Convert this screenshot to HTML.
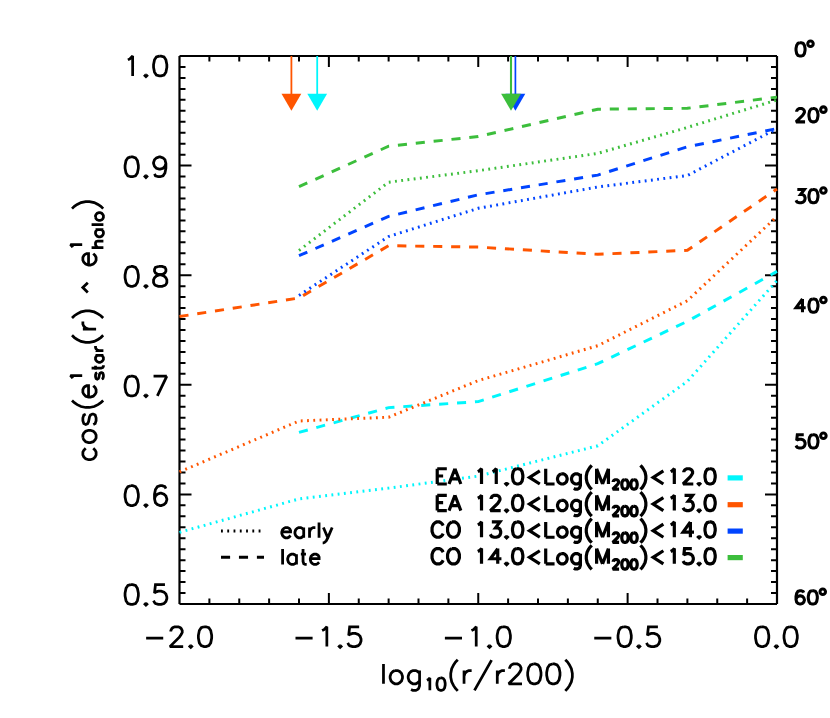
<!DOCTYPE html>
<html lang="en"><head><meta charset="utf-8"><title>cos(e_star(r) ^ e_halo) vs log10(r/r200)</title>
<style>
html,body{margin:0;padding:0;background:#fff}
svg{display:block}
.g{fill:none;stroke:#000;stroke-linecap:butt;stroke-linejoin:miter;stroke-miterlimit:2.3}
.ax{fill:none;stroke:#000;stroke-width:2.2}
.tk{fill:none;stroke:#000;stroke-width:2}
.ln{fill:none;stroke-width:2.95;stroke-linecap:butt;stroke-linejoin:miter}
.da{stroke-dasharray:9.1 8.85}
.do{stroke-dasharray:1.85 4.42}
text{font-family:"Liberation Sans",sans-serif;fill:#000;fill-opacity:0}
</style></head>
<body>
<svg width="830" height="718" viewBox="0 0 830 718">
<rect width="830" height="718" fill="#fff"/>
<!-- axes box -->
<path class="ax" d="M179.5 604H777M179.5 56H777M179.5 604V56M777 604V56"/>
<!-- ticks -->
<path class="tk" d="M209.38 604v-5.5M209.38 56v5.5M239.25 604v-5.5M239.25 56v5.5M269.12 604v-5.5M269.12 56v5.5M299 604v-5.5M299 56v5.5M328.88 604v-11M328.88 56v11M358.75 604v-5.5M358.75 56v5.5M388.63 604v-5.5M388.63 56v5.5M418.5 604v-5.5M418.5 56v5.5M448.38 604v-5.5M448.38 56v5.5M478.25 604v-11M478.25 56v11M508.12 604v-5.5M508.12 56v5.5M538 604v-5.5M538 56v5.5M567.88 604v-5.5M567.88 56v5.5M597.75 604v-5.5M597.75 56v5.5M627.62 604v-11M627.62 56v11M657.5 604v-5.5M657.5 56v5.5M687.38 604v-5.5M687.38 56v5.5M717.25 604v-5.5M717.25 56v5.5M747.12 604v-5.5M747.12 56v5.5M179.5 593.04h6M777 593.04h-6M179.5 582.08h6M777 582.08h-6M179.5 571.12h6M777 571.12h-6M179.5 560.16h6M777 560.16h-6M179.5 549.2h6M777 549.2h-6M179.5 538.24h6M777 538.24h-6M179.5 527.28h6M777 527.28h-6M179.5 516.32h6M777 516.32h-6M179.5 505.36h6M777 505.36h-6M179.5 494.4h12M777 494.4h-12M179.5 483.44h6M777 483.44h-6M179.5 472.48h6M777 472.48h-6M179.5 461.52h6M777 461.52h-6M179.5 450.56h6M777 450.56h-6M179.5 439.6h6M777 439.6h-6M179.5 428.64h6M777 428.64h-6M179.5 417.68h6M777 417.68h-6M179.5 406.72h6M777 406.72h-6M179.5 395.76h6M777 395.76h-6M179.5 384.8h12M777 384.8h-12M179.5 373.84h6M777 373.84h-6M179.5 362.88h6M777 362.88h-6M179.5 351.92h6M777 351.92h-6M179.5 340.96h6M777 340.96h-6M179.5 330h6M777 330h-6M179.5 319.04h6M777 319.04h-6M179.5 308.08h6M777 308.08h-6M179.5 297.12h6M777 297.12h-6M179.5 286.16h6M777 286.16h-6M179.5 275.2h12M777 275.2h-12M179.5 264.24h6M777 264.24h-6M179.5 253.28h6M777 253.28h-6M179.5 242.32h6M777 242.32h-6M179.5 231.36h6M777 231.36h-6M179.5 220.4h6M777 220.4h-6M179.5 209.44h6M777 209.44h-6M179.5 198.48h6M777 198.48h-6M179.5 187.52h6M777 187.52h-6M179.5 176.56h6M777 176.56h-6M179.5 165.6h12M777 165.6h-12M179.5 154.64h6M777 154.64h-6M179.5 143.68h6M777 143.68h-6M179.5 132.72h6M777 132.72h-6M179.5 121.76h6M777 121.76h-6M179.5 110.8h6M777 110.8h-6M179.5 99.84h6M777 99.84h-6M179.5 88.88h6M777 88.88h-6M179.5 77.92h6M777 77.92h-6M179.5 66.96h6M777 66.96h-6"/>
<!-- data curves -->
<polyline class="ln do" stroke="#00f6fc" points="179.5,532.3 299,498.9 388.62,488.1 478.25,476.1 597.75,445.8 687.38,381.4 777,280.5"/>
<polyline class="ln da" stroke="#00f6fc" points="299,432.4 388.62,407.6 478.25,401.6 597.75,363.7 687.38,321.3 777,271.4"/>
<polyline class="ln do" stroke="#ff5500" points="179.5,471.9 299,421 388.62,417.2 478.25,380.6 597.75,345.7 687.38,300.7 777,216.4"/>
<polyline class="ln da" stroke="#ff5500" points="179.5,316.5 299,298 388.62,245.7 478.25,247.1 597.75,254.3 687.38,250.3 777,189"/>
<polyline class="ln do" stroke="#0044ff" points="299,295.4 388.62,236.5 478.25,208.3 597.75,187 687.38,175.5 777,128.6"/>
<polyline class="ln da" stroke="#0044ff" points="299,255.7 388.62,216.4 478.25,194.8 597.75,175.1 687.38,146.8 777,128.6"/>
<polyline class="ln do" stroke="#3cbe3c" points="299,250.5 388.62,182.2 478.25,170.7 597.75,153.4 687.38,127.4 777,100"/>
<polyline class="ln da" stroke="#3cbe3c" points="299,186.7 388.62,146.2 478.25,136.5 597.75,109.2 687.38,108.3 777,97.1"/>
<!-- r_half arrows -->
<path d="M291.4 56V95" stroke="#ff5500" stroke-width="1.8" fill="none"/><path d="M281.5 93.7h19.8l-9.9 17z" fill="#ff5500"/>
<path d="M317.2 56V95" stroke="#00f6fc" stroke-width="1.8" fill="none"/><path d="M307.3 93.7h19.8l-9.9 17z" fill="#00f6fc"/>
<path d="M515.4 56V95" stroke="#0044ff" stroke-width="1.7" fill="none"/><path d="M505.5 93.7h19.8l-9.9 17z" fill="#0044ff"/>
<path d="M511 56V95" stroke="#3cbe3c" stroke-width="2.1" fill="none"/><path d="M501.1 93.7h19.8l-9.9 17z" fill="#3cbe3c"/>
<!-- y tick labels -->
<g><path class="g" stroke-width="2.75" d="M127.90 59.86L129.80 58.91L132.65 56.08L132.65 75.92M145.95 74.79L145 75.74L145.95 76.68L146.90 75.74L145.95 74.79M159.25 56.08L156.40 57.02L154.50 59.86L153.55 64.58L153.55 67.42L154.50 72.14L156.40 74.98L159.25 75.92L161.15 75.92L164 74.98L165.90 72.14L166.85 67.42L166.85 64.58L165.90 59.86L164 57.02L161.15 56.08L159.25 56.08"/><text x="124.2" y="76.92" font-size="30" textLength="42.5" lengthAdjust="spacingAndGlyphs">1.0</text></g>
<g><path class="g" stroke-width="2.75" d="M130.75 156.88L127.90 157.83L126 160.66L125.05 165.39L125.05 168.22L126 172.95L127.90 175.78L130.75 176.73L132.65 176.73L135.50 175.78L137.40 172.95L138.35 168.22L138.35 165.39L137.40 160.66L135.50 157.83L132.65 156.88L130.75 156.88M145.95 175.59L145 176.54L145.95 177.48L146.90 176.54L145.95 175.59M165.90 163.50L164.95 166.33L163.05 168.22L160.20 169.17L159.25 169.17L156.40 168.22L154.50 166.33L153.55 163.50L153.55 162.55L154.50 159.72L156.40 157.83L159.25 156.88L160.20 156.88L163.05 157.83L164.95 159.72L165.90 163.50L165.90 168.22L164.95 172.95L163.05 175.78L160.20 176.73L158.30 176.73L155.45 175.78L154.50 173.89"/><text x="124.2" y="177.73" font-size="30" textLength="42.5" lengthAdjust="spacingAndGlyphs">0.9</text></g>
<g><path class="g" stroke-width="2.75" d="M130.75 266.48L127.90 267.43L126 270.26L125.05 274.99L125.05 277.82L126 282.55L127.90 285.38L130.75 286.32L132.65 286.32L135.50 285.38L137.40 282.55L138.35 277.82L138.35 274.99L137.40 270.26L135.50 267.43L132.65 266.48L130.75 266.48M145.95 285.19L145 286.14L145.95 287.08L146.90 286.14L145.95 285.19M158.30 266.48L155.45 267.43L154.50 269.31L154.50 271.20L155.45 273.09L157.35 274.04L161.15 274.99L164 275.93L165.90 277.82L166.85 279.71L166.85 282.55L165.90 284.44L164.95 285.38L162.10 286.32L158.30 286.32L155.45 285.38L154.50 284.44L153.55 282.55L153.55 279.71L154.50 277.82L156.40 275.93L159.25 274.99L163.05 274.04L164.95 273.09L165.90 271.20L165.90 269.31L164.95 267.43L162.10 266.48L158.30 266.48"/><text x="124.2" y="287.32" font-size="30" textLength="42.5" lengthAdjust="spacingAndGlyphs">0.8</text></g>
<g><path class="g" stroke-width="2.75" d="M130.75 376.08L127.90 377.03L126 379.86L125.05 384.59L125.05 387.42L126 392.15L127.90 394.98L130.75 395.93L132.65 395.93L135.50 394.98L137.40 392.15L138.35 387.42L138.35 384.59L137.40 379.86L135.50 377.03L132.65 376.08L130.75 376.08M145.95 394.79L145 395.74L145.95 396.68L146.90 395.74L145.95 394.79M166.85 376.08L157.35 395.93M153.55 376.08L166.85 376.08"/><text x="124.2" y="396.93" font-size="30" textLength="42.5" lengthAdjust="spacingAndGlyphs">0.7</text></g>
<g><path class="g" stroke-width="2.75" d="M130.75 485.68L127.90 486.63L126 489.46L125.05 494.19L125.05 497.02L126 501.75L127.90 504.58L130.75 505.53L132.65 505.53L135.50 504.58L137.40 501.75L138.35 497.02L138.35 494.19L137.40 489.46L135.50 486.63L132.65 485.68L130.75 485.68M145.95 504.39L145 505.34L145.95 506.28L146.90 505.34L145.95 504.39M165.90 488.52L164.95 486.63L162.10 485.68L160.20 485.68L157.35 486.63L155.45 489.46L154.50 494.19L154.50 498.91L155.45 502.69L157.35 504.58L160.20 505.53L161.15 505.53L164 504.58L165.90 502.69L166.85 499.86L166.85 498.91L165.90 496.08L164 494.19L161.15 493.24L160.20 493.24L157.35 494.19L155.45 496.08L154.50 498.91"/><text x="124.2" y="506.53" font-size="30" textLength="42.5" lengthAdjust="spacingAndGlyphs">0.6</text></g>
<g><path class="g" stroke-width="2.75" d="M130.75 584.58L127.90 585.52L126 588.36L125.05 593.08L125.05 595.92L126 600.64L127.90 603.48L130.75 604.42L132.65 604.42L135.50 603.48L137.40 600.64L138.35 595.92L138.35 593.08L137.40 588.36L135.50 585.52L132.65 584.58L130.75 584.58M145.95 603.29L145 604.24L145.95 605.18L146.90 604.24L145.95 603.29M164.95 584.58L155.45 584.58L154.50 593.08L155.45 592.14L158.30 591.19L161.15 591.19L164 592.14L165.90 594.03L166.85 596.87L166.85 598.75L165.90 601.59L164 603.48L161.15 604.42L158.30 604.42L155.45 603.48L154.50 602.53L153.55 600.64"/><text x="124.2" y="605.42" font-size="30" textLength="42.5" lengthAdjust="spacingAndGlyphs">0.5</text></g>
<!-- x tick labels -->
<g><path class="g" stroke-width="2.75" d="M146.13 638.12L163.23 638.12M170.83 631.50L170.83 630.56L171.78 628.67L172.73 627.73L174.62 626.78L178.43 626.78L180.33 627.73L181.28 628.67L182.23 630.56L182.23 632.45L181.28 634.34L179.38 637.17L169.88 646.62L183.18 646.62M190.78 645.49L189.83 646.44L190.78 647.38L191.73 646.44L190.78 645.49M204.08 626.78L201.23 627.73L199.33 630.56L198.38 635.28L198.38 638.12L199.33 642.85L201.23 645.68L204.08 646.62L205.98 646.62L208.83 645.68L210.73 642.85L211.68 638.12L211.68 635.28L210.73 630.56L208.83 627.73L205.98 626.78L204.08 626.78"/><text x="145.33" y="647.62" font-size="30" textLength="66.2" lengthAdjust="spacingAndGlyphs">−2.0</text></g>
<g><path class="g" stroke-width="2.75" d="M295.50 638.12L312.60 638.12M322.10 630.56L324 629.62L326.85 626.78L326.85 646.62M340.15 645.49L339.20 646.44L340.15 647.38L341.10 646.44L340.15 645.49M359.15 626.78L349.65 626.78L348.70 635.28L349.65 634.34L352.50 633.39L355.35 633.39L358.20 634.34L360.10 636.23L361.05 639.07L361.05 640.96L360.10 643.79L358.20 645.68L355.35 646.62L352.50 646.62L349.65 645.68L348.70 644.74L347.75 642.85"/><text x="294.7" y="647.62" font-size="30" textLength="66.2" lengthAdjust="spacingAndGlyphs">−1.5</text></g>
<g><path class="g" stroke-width="2.75" d="M444.88 638.12L461.97 638.12M471.47 630.56L473.38 629.62L476.22 626.78L476.22 646.62M489.52 645.49L488.57 646.44L489.52 647.38L490.47 646.44L489.52 645.49M502.82 626.78L499.97 627.73L498.07 630.56L497.12 635.28L497.12 638.12L498.07 642.85L499.97 645.68L502.82 646.62L504.72 646.62L507.57 645.68L509.47 642.85L510.42 638.12L510.42 635.28L509.47 630.56L507.57 627.73L504.72 626.78L502.82 626.78"/><text x="444.07" y="647.62" font-size="30" textLength="66.2" lengthAdjust="spacingAndGlyphs">−1.0</text></g>
<g><path class="g" stroke-width="2.75" d="M594.25 638.12L611.35 638.12M623.70 626.78L620.85 627.73L618.95 630.56L618 635.28L618 638.12L618.95 642.85L620.85 645.68L623.70 646.62L625.60 646.62L628.45 645.68L630.35 642.85L631.30 638.12L631.30 635.28L630.35 630.56L628.45 627.73L625.60 626.78L623.70 626.78M638.90 645.49L637.95 646.44L638.90 647.38L639.85 646.44L638.90 645.49M657.90 626.78L648.40 626.78L647.45 635.28L648.40 634.34L651.25 633.39L654.10 633.39L656.95 634.34L658.85 636.23L659.80 639.07L659.80 640.96L658.85 643.79L656.95 645.68L654.10 646.62L651.25 646.62L648.40 645.68L647.45 644.74L646.50 642.85"/><text x="593.45" y="647.62" font-size="30" textLength="66.2" lengthAdjust="spacingAndGlyphs">−0.5</text></g>
<g><path class="g" stroke-width="2.75" d="M761.20 626.78L758.35 627.73L756.45 630.56L755.50 635.28L755.50 638.12L756.45 642.85L758.35 645.68L761.20 646.62L763.10 646.62L765.95 645.68L767.85 642.85L768.80 638.12L768.80 635.28L767.85 630.56L765.95 627.73L763.10 626.78L761.20 626.78M776.40 645.49L775.45 646.44L776.40 647.38L777.35 646.44L776.40 645.49M789.70 626.78L786.85 627.73L784.95 630.56L784 635.28L784 638.12L784.95 642.85L786.85 645.68L789.70 646.62L791.60 646.62L794.45 645.68L796.35 642.85L797.30 638.12L797.30 635.28L796.35 630.56L794.45 627.73L791.60 626.78L789.70 626.78"/><text x="755.65" y="647.62" font-size="30" textLength="41.5" lengthAdjust="spacingAndGlyphs">0.0</text></g>
<!-- x title -->
<g><path class="g" stroke-width="2.75" d="M383.48 663.93L383.48 683.77M394.88 670.54L392.98 671.49L391.07 673.38L390.12 676.22L390.12 678.11L391.07 680.94L392.98 682.83L394.88 683.77L397.73 683.77L399.62 682.83L401.53 680.94L402.48 678.11L402.48 676.22L401.53 673.38L399.62 671.49L397.73 670.54L394.88 670.54M419.57 670.54L419.57 685.66L418.62 688.50L417.68 689.44L415.78 690.39L412.93 690.39L411.03 689.44M419.57 673.38L417.68 671.49L415.78 670.54L412.93 670.54L411.03 671.49L409.12 673.38L408.18 676.22L408.18 678.11L409.12 680.94L411.03 682.83L412.93 683.77L415.78 683.77L417.68 682.83L419.57 680.94"/><path class="g" stroke-width="2.75" d="M426.91 680.31L428.09 679.73L429.85 677.97L429.85 690.27M440.46 677.97L438.69 678.56L437.51 680.31L436.92 683.24L436.92 685L437.51 687.93L438.69 689.69L440.46 690.27L441.63 690.27L443.40 689.69L444.58 687.93L445.17 685L445.17 683.24L444.58 680.31L443.40 678.56L441.63 677.97L440.46 677.97"/><path class="g" stroke-width="2.75" d="M457.76 659.68L455.49 662.04L453.58 664.88L451.69 668.65L450.74 673.38L450.74 677.16L451.69 681.88L453.58 685.66L455.49 688.50L457.76 690.86M464.04 670.54L464.04 683.77M464.04 676.22L464.99 673.38L466.88 671.49L468.79 670.54L471.63 670.54M491.58 660.15L474.49 690.39M497.28 670.54L497.28 683.77M497.28 676.22L498.24 673.38L500.13 671.49L502.03 670.54L504.88 670.54M509.63 668.65L509.63 667.71L510.58 665.82L511.53 664.88L513.43 663.93L517.24 663.93L519.13 664.88L520.09 665.82L521.03 667.71L521.03 669.60L520.09 671.49L518.18 674.32L508.69 683.77L521.99 683.77M533.38 663.93L530.53 664.88L528.63 667.71L527.68 672.43L527.68 675.27L528.63 680L530.53 682.83L533.38 683.77L535.28 683.77L538.13 682.83L540.03 680L540.99 675.27L540.99 672.43L540.03 667.71L538.13 664.88L535.28 663.93L533.38 663.93M552.38 663.93L549.53 664.88L547.63 667.71L546.68 672.43L546.68 675.27L547.63 680L549.53 682.83L552.38 683.77L554.28 683.77L557.13 682.83L559.03 680L559.99 675.27L559.99 672.43L559.03 667.71L557.13 664.88L554.28 663.93L552.38 663.93M565.30 659.68L567.59 662.04L569.49 664.88L571.38 668.65L572.34 673.38L572.34 677.16L571.38 681.88L569.49 685.66L567.59 688.50L565.30 690.86"/><text x="382.68" y="683.77" font-size="30" textLength="190.46" lengthAdjust="spacingAndGlyphs">log<tspan font-size="19" dy="6">10</tspan><tspan dy="-6">(r/r200)</tspan></text></g>
<!-- y title -->
<g transform="translate(96.1 461.1) rotate(-90)"><path class="g" stroke-width="2.75" d="M12.78 -10.39L10.88 -12.29L8.97 -13.23L6.12 -13.23L4.22 -12.29L2.33 -10.39L1.38 -7.56L1.38 -5.67L2.33 -2.83L4.22 -0.94L6.12 0L8.97 0L10.88 -0.94L12.78 -2.83M23.23 -13.23L21.32 -12.29L19.42 -10.39L18.48 -7.56L18.48 -5.67L19.42 -2.83L21.32 -0.94L23.23 0L26.07 0L27.98 -0.94L29.88 -2.83L30.82 -5.67L30.82 -7.56L29.88 -10.39L27.98 -12.29L26.07 -13.23L23.23 -13.23M46.97 -10.39L46.02 -12.29L43.17 -13.23L40.32 -13.23L37.47 -12.29L36.52 -10.39L37.47 -8.50L39.38 -7.56L44.12 -6.61L46.02 -5.67L46.97 -3.78L46.97 -2.83L46.02 -0.94L43.17 0L40.32 0L37.47 -0.94L36.52 -2.83M60.66 -24.10L58.37 -21.73L56.47 -18.90L54.57 -15.12L53.62 -10.39L53.62 -6.61L54.57 -1.89L56.47 1.89L58.37 4.72L60.66 7.09"/><path class="g" stroke-width="2.75" d="M63.98 -7.56L75.38 -7.56L75.38 -9.45L74.42 -11.34L73.47 -12.29L71.58 -13.23L68.72 -13.23L66.83 -12.29L64.92 -10.39L63.98 -7.56L63.98 -5.67L64.92 -2.83L66.83 -0.94L68.72 0L71.58 0L73.47 -0.94L75.38 -2.83"/><path class="g" stroke-width="2.75" d="M88.37 1.11L87.79 -0.01L86.04 -0.57L84.30 -0.57L82.56 -0.01L81.97 1.11L82.56 2.24L83.72 2.80L86.63 3.36L87.79 3.93L88.37 5.05L88.37 5.61L87.79 6.74L86.04 7.30L84.30 7.30L82.56 6.74L81.97 5.61M93.02 -4.51L93.02 5.05L93.60 6.74L94.77 7.30L95.93 7.30M91.28 -0.57L95.35 -0.57M105.81 -0.57L105.81 7.30M105.81 1.11L104.65 -0.01L103.49 -0.57L101.74 -0.57L100.58 -0.01L99.42 1.11L98.84 2.80L98.84 3.93L99.42 5.61L100.58 6.74L101.74 7.30L103.49 7.30L104.65 6.74L105.81 5.61M110.46 -0.57L110.46 7.30M110.46 2.80L111.04 1.11L112.21 -0.01L113.37 -0.57L115.11 -0.57"/><path class="g" stroke-width="2.75" d="M82.78 -23.46L83.91 -24.02L85.60 -25.71L85.60 -13.90"/><path class="g" stroke-width="2.75" d="M125.81 -24.10L123.53 -21.73L121.63 -18.90L119.73 -15.12L118.78 -10.39L118.78 -6.61L119.73 -1.89L121.63 1.89L123.53 4.72L125.81 7.09M132.08 -13.23L132.08 0M132.08 -7.56L133.03 -10.39L134.93 -12.29L136.83 -13.23L139.68 -13.23M143.09 -24.10L145.38 -21.73L147.28 -18.90L149.18 -15.12L150.12 -10.39L150.12 -6.61L149.18 -1.89L147.28 1.89L145.38 4.72L143.09 7.09"/><path class="g" stroke-width="2.75" d="M168.6 -8.3L173.5 -13.3L178.4 -8.3"/><path class="g" stroke-width="2.75" d="M196.07 -7.56L207.47 -7.56L207.47 -9.45L206.53 -11.34L205.57 -12.29L203.67 -13.23L200.82 -13.23L198.92 -12.29L197.03 -10.39L196.07 -7.56L196.07 -5.67L197.03 -2.83L198.92 -0.94L200.82 0L203.67 0L205.57 -0.94L207.47 -2.83"/><path class="g" stroke-width="2.75" d="M213.38 -4.51L213.38 7.30M213.38 1.68L215.19 -0.01L216.40 -0.57L218.22 -0.57L219.43 -0.01L220.03 1.68L220.03 7.30M231.53 -0.57L231.53 7.30M231.53 1.11L230.32 -0.01L229.11 -0.57L227.29 -0.57L226.08 -0.01L224.87 1.11L224.27 2.80L224.27 3.93L224.87 5.61L226.08 6.74L227.29 7.30L229.11 7.30L230.32 6.74L231.53 5.61M236.37 -4.51L236.37 7.30M243.63 -0.57L242.42 -0.01L241.21 1.11L240.61 2.80L240.61 3.93L241.21 5.61L242.42 6.74L243.63 7.30L245.45 7.30L246.66 6.74L247.87 5.61L248.47 3.93L248.47 2.80L247.87 1.11L246.66 -0.01L245.45 -0.57L243.63 -0.57"/><path class="g" stroke-width="2.75" d="M213.78 -23.46L214.91 -24.02L216.60 -25.71L216.60 -13.90"/><path class="g" stroke-width="2.75" d="M252.47 -24.10L254.75 -21.73L256.65 -18.90L258.56 -15.12L259.50 -10.39L259.50 -6.61L258.56 -1.89L256.65 1.89L254.75 4.72L252.47 7.09"/><text x="2" y="0" font-size="30" textLength="256" lengthAdjust="spacingAndGlyphs">cos(e<tspan font-size="19" dy="6">star</tspan><tspan dy="-6">(r) ^ e</tspan><tspan font-size="19" dy="6">halo</tspan><tspan dy="-6">)</tspan></text></g>
<!-- angle labels (right) -->
<g><path class="g" stroke-width="3.05" d="M799.89 42.74L797.96 43.38L796.67 45.28L796.02 48.46L796.02 50.36L796.67 53.54L797.96 55.44L799.89 56.08L801.19 56.08L803.12 55.44L804.41 53.54L805.06 50.36L805.06 48.46L804.41 45.28L803.12 43.38L801.19 42.74L799.89 42.74"/><circle class="g" stroke-width="3.05" cx="810.49" cy="43.84" r="2.75"/><text x="796.09" y="57.08" font-size="21" textLength="17.9" lengthAdjust="spacingAndGlyphs">0°</text></g>
<g><path class="g" stroke-width="3.05" d="M796.67 111.72L796.67 111.08L797.32 109.81L797.96 109.17L799.25 108.54L801.83 108.54L803.12 109.17L803.76 109.81L804.41 111.08L804.41 112.35L803.76 113.62L802.48 115.53L796.02 121.88L805.06 121.88M812.80 108.54L810.86 109.17L809.57 111.08L808.93 114.25L808.93 116.16L809.57 119.33L810.86 121.24L812.80 121.88L814.09 121.88L816.02 121.24L817.31 119.33L817.96 116.16L817.96 114.25L817.31 111.08L816.02 109.17L814.09 108.54L812.80 108.54"/><circle class="g" stroke-width="3.05" cx="823.39" cy="109.64" r="2.75"/><text x="796.09" y="122.88" font-size="21" textLength="30.8" lengthAdjust="spacingAndGlyphs">20°</text></g>
<g><path class="g" stroke-width="3.05" d="M797.32 189.44L804.41 189.44L800.54 194.52L802.48 194.52L803.76 195.16L804.41 195.79L805.06 197.69L805.06 198.97L804.41 200.87L803.12 202.14L801.19 202.78L799.25 202.78L797.32 202.14L796.67 201.50L796.02 200.24M812.80 189.44L810.86 190.08L809.57 191.98L808.93 195.16L808.93 197.06L809.57 200.24L810.86 202.14L812.80 202.78L814.09 202.78L816.02 202.14L817.31 200.24L817.96 197.06L817.96 195.16L817.31 191.98L816.02 190.08L814.09 189.44L812.80 189.44"/><circle class="g" stroke-width="3.05" cx="823.39" cy="190.54" r="2.75"/><text x="796.09" y="203.78" font-size="21" textLength="30.8" lengthAdjust="spacingAndGlyphs">30°</text></g>
<g><path class="g" stroke-width="3.05" d="M802.48 298.94L796.02 307.83L805.70 307.83M802.48 298.94L802.48 312.28M812.80 298.94L810.86 299.58L809.57 301.48L808.93 304.66L808.93 306.56L809.57 309.74L810.86 311.64L812.80 312.28L814.09 312.28L816.02 311.64L817.31 309.74L817.96 306.56L817.96 304.66L817.31 301.48L816.02 299.58L814.09 298.94L812.80 298.94"/><circle class="g" stroke-width="3.05" cx="823.39" cy="300.04" r="2.75"/><text x="796.09" y="313.28" font-size="21" textLength="30.8" lengthAdjust="spacingAndGlyphs">40°</text></g>
<g><path class="g" stroke-width="3.05" d="M803.76 434.74L797.32 434.74L796.67 440.46L797.32 439.82L799.25 439.19L801.19 439.19L803.12 439.82L804.41 441.09L805.06 443L805.06 444.27L804.41 446.17L803.12 447.44L801.19 448.08L799.25 448.08L797.32 447.44L796.67 446.81L796.02 445.54M812.80 434.74L810.86 435.38L809.57 437.28L808.93 440.46L808.93 442.36L809.57 445.54L810.86 447.44L812.80 448.08L814.09 448.08L816.02 447.44L817.31 445.54L817.96 442.36L817.96 440.46L817.31 437.28L816.02 435.38L814.09 434.74L812.80 434.74"/><circle class="g" stroke-width="3.05" cx="823.39" cy="435.84" r="2.75"/><text x="796.09" y="449.08" font-size="21" textLength="30.8" lengthAdjust="spacingAndGlyphs">50°</text></g>
<g><path class="g" stroke-width="3.05" d="M803.76 592.65L803.12 591.38L801.18 590.74L799.89 590.74L797.96 591.38L796.67 593.28L796.02 596.46L796.02 599.63L796.67 602.17L797.96 603.44L799.89 604.08L800.54 604.08L802.47 603.44L803.76 602.17L804.41 600.27L804.41 599.63L803.76 597.73L802.47 596.46L800.54 595.82L799.89 595.82L797.96 596.46L796.67 597.73L796.02 599.63M812.15 590.74L810.21 591.38L808.92 593.28L808.28 596.46L808.28 598.36L808.92 601.54L810.21 603.44L812.15 604.08L813.44 604.08L815.37 603.44L816.66 601.54L817.31 598.36L817.31 596.46L816.66 593.28L815.37 591.38L813.44 590.74L812.15 590.74"/><circle class="g" stroke-width="3.05" cx="822.74" cy="591.84" r="2.75"/><text x="795.44" y="605.08" font-size="21" textLength="30.8" lengthAdjust="spacingAndGlyphs">60°</text></g>
<!-- legend -->
<g><path class="g" stroke-width="3.2" d="M437.23 468.73L437.23 484M437.23 468.73L446.82 468.73M437.23 476L443.13 476M437.23 484L446.82 484M454.94 468.73L449.03 484M454.94 468.73L460.84 484M451.25 478.91L458.63 478.91M477.82 471.64L479.29 470.91L481.51 468.73L481.51 484M492.58 471.64L494.05 470.91L496.27 468.73L496.27 484M506.60 483.13L505.86 483.85L506.60 484.58L507.34 483.85L506.60 483.13M516.93 468.73L514.72 469.46L513.24 471.64L512.50 475.28L512.50 477.46L513.24 481.09L514.72 483.27L516.93 484L518.41 484L520.62 483.27L522.10 481.09L522.83 477.46L522.83 475.28L522.10 471.64L520.62 469.46L518.41 468.73L516.93 468.73M539.81 470.91L529.48 477.46L539.81 484M545.71 468.73L545.71 484M545.71 484L554.57 484M561.21 473.82L559.73 474.55L558.26 476L557.52 478.18L557.52 479.64L558.26 481.82L559.73 483.27L561.21 484L563.42 484L564.90 483.27L566.38 481.82L567.11 479.64L567.11 478.18L566.38 476L564.90 474.55L563.42 473.82L561.21 473.82M580.40 473.82L580.40 485.45L579.66 487.63L578.92 488.36L577.45 489.09L575.23 489.09L573.76 488.36M580.40 476L578.92 474.55L577.45 473.82L575.23 473.82L573.76 474.55L572.28 476L571.54 478.18L571.54 479.64L572.28 481.82L573.76 483.27L575.23 484L577.45 484L578.92 483.27L580.40 481.82M591.76 465.46L589.99 467.28L588.52 469.46L587.04 472.37L586.30 476L586.30 478.91L587.04 482.55L588.52 485.45L589.99 487.63L591.76 489.45M596.63 468.73L596.63 484M596.63 468.73L602.54 484M608.44 468.73L602.54 484M608.44 468.73L608.44 484"/><path class="g" stroke-width="3.2" d="M613.20 481.99L613.20 481.54L613.66 480.64L614.11 480.19L615.01 479.73L616.83 479.73L617.73 480.19L618.18 480.64L618.64 481.54L618.64 482.44L618.18 483.34L617.28 484.69L612.75 489.20L619.09 489.20M624.52 479.73L623.16 480.19L622.26 481.54L621.80 483.79L621.80 485.14L622.26 487.40L623.16 488.75L624.52 489.20L625.42 489.20L626.78 488.75L627.69 487.40L628.14 485.14L628.14 483.79L627.69 481.54L626.78 480.19L625.42 479.73L624.52 479.73M633.57 479.73L632.21 480.19L631.31 481.54L630.86 483.79L630.86 485.14L631.31 487.40L632.21 488.75L633.57 489.20L634.48 489.20L635.83 488.75L636.74 487.40L637.19 485.14L637.19 483.79L636.74 481.54L635.83 480.19L634.48 479.73L633.57 479.73"/><path class="g" stroke-width="3.2" d="M640.45 465.46L642.20 467.28L643.66 469.46L645.12 472.37L645.85 476L645.85 478.91L645.12 482.55L643.66 485.45L642.20 487.63L640.45 489.45M663.37 470.91L653.15 477.46L663.37 484M670.67 471.64L672.13 470.91L674.32 468.73L674.32 484M683.81 472.37L683.81 471.64L684.54 470.19L685.27 469.46L686.73 468.73L689.65 468.73L691.11 469.46L691.84 470.19L692.57 471.64L692.57 473.10L691.84 474.55L690.38 476.73L683.08 484L693.30 484M699.14 483.13L698.41 483.85L699.14 484.58L699.87 483.85L699.14 483.13M709.36 468.73L707.17 469.46L705.71 471.64L704.98 475.28L704.98 477.46L705.71 481.09L707.17 483.27L709.36 484L710.82 484L713.01 483.27L714.47 481.09L715.20 477.46L715.20 475.28L714.47 471.64L713.01 469.46L710.82 468.73L709.36 468.73"/><text x="436.27" y="484.6" font-size="22" textLength="278.53" lengthAdjust="spacingAndGlyphs">EA 11.0&lt;Log(M<tspan font-size="14" dy="5">200</tspan><tspan dy="-5">)&lt;12.0</tspan></text><path d="M727.6 477.9h15.2" stroke="#00f6fc" stroke-width="5.2" fill="none"/></g>
<g><path class="g" stroke-width="3.2" d="M437.23 495.35L437.23 510.62M437.23 495.35L446.82 495.35M437.23 502.62L443.13 502.62M437.23 510.62L446.82 510.62M454.94 495.35L449.03 510.62M454.94 495.35L460.84 510.62M451.25 505.53L458.63 505.53M477.82 498.26L479.29 497.53L481.51 495.35L481.51 510.62M491.10 498.99L491.10 498.26L491.84 496.81L492.58 496.08L494.05 495.35L497 495.35L498.48 496.08L499.22 496.81L499.96 498.26L499.96 499.72L499.22 501.17L497.74 503.35L490.36 510.62L500.69 510.62M506.60 509.75L505.86 510.47L506.60 511.20L507.34 510.47L506.60 509.75M516.93 495.35L514.72 496.08L513.24 498.26L512.50 501.90L512.50 504.08L513.24 507.71L514.72 509.89L516.93 510.62L518.41 510.62L520.62 509.89L522.10 507.71L522.83 504.08L522.83 501.90L522.10 498.26L520.62 496.08L518.41 495.35L516.93 495.35M539.81 497.53L529.48 504.08L539.81 510.62M545.71 495.35L545.71 510.62M545.71 510.62L554.57 510.62M561.21 500.44L559.73 501.17L558.26 502.62L557.52 504.80L557.52 506.26L558.26 508.44L559.73 509.89L561.21 510.62L563.42 510.62L564.90 509.89L566.38 508.44L567.11 506.26L567.11 504.80L566.38 502.62L564.90 501.17L563.42 500.44L561.21 500.44M580.40 500.44L580.40 512.07L579.66 514.25L578.92 514.98L577.45 515.71L575.23 515.71L573.76 514.98M580.40 502.62L578.92 501.17L577.45 500.44L575.23 500.44L573.76 501.17L572.28 502.62L571.54 504.80L571.54 506.26L572.28 508.44L573.76 509.89L575.23 510.62L577.45 510.62L578.92 509.89L580.40 508.44M591.76 492.08L589.99 493.90L588.52 496.08L587.04 498.99L586.30 502.62L586.30 505.53L587.04 509.17L588.52 512.07L589.99 514.25L591.76 516.07M596.63 495.35L596.63 510.62M596.63 495.35L602.54 510.62M608.44 495.35L602.54 510.62M608.44 495.35L608.44 510.62"/><path class="g" stroke-width="3.2" d="M613.20 508.61L613.20 508.16L613.66 507.26L614.11 506.81L615.01 506.35L616.83 506.35L617.73 506.81L618.18 507.26L618.64 508.16L618.64 509.06L618.18 509.96L617.28 511.31L612.75 515.82L619.09 515.82M624.52 506.35L623.16 506.81L622.26 508.16L621.80 510.41L621.80 511.76L622.26 514.02L623.16 515.37L624.52 515.82L625.42 515.82L626.78 515.37L627.69 514.02L628.14 511.76L628.14 510.41L627.69 508.16L626.78 506.81L625.42 506.35L624.52 506.35M633.57 506.35L632.21 506.81L631.31 508.16L630.86 510.41L630.86 511.76L631.31 514.02L632.21 515.37L633.57 515.82L634.48 515.82L635.83 515.37L636.74 514.02L637.19 511.76L637.19 510.41L636.74 508.16L635.83 506.81L634.48 506.35L633.57 506.35"/><path class="g" stroke-width="3.2" d="M640.45 492.08L642.20 493.90L643.66 496.08L645.12 498.99L645.85 502.62L645.85 505.53L645.12 509.17L643.66 512.07L642.20 514.25L640.45 516.07M663.37 497.53L653.15 504.08L663.37 510.62M670.67 498.26L672.13 497.53L674.32 495.35L674.32 510.62M684.54 495.35L692.57 495.35L688.19 501.17L690.38 501.17L691.84 501.90L692.57 502.62L693.30 504.80L693.30 506.26L692.57 508.44L691.11 509.89L688.92 510.62L686.73 510.62L684.54 509.89L683.81 509.17L683.08 507.71M699.14 509.75L698.41 510.47L699.14 511.20L699.87 510.47L699.14 509.75M709.36 495.35L707.17 496.08L705.71 498.26L704.98 501.90L704.98 504.08L705.71 507.71L707.17 509.89L709.36 510.62L710.82 510.62L713.01 509.89L714.47 507.71L715.20 504.08L715.20 501.90L714.47 498.26L713.01 496.08L710.82 495.35L709.36 495.35"/><text x="436.27" y="511.22" font-size="22" textLength="278.53" lengthAdjust="spacingAndGlyphs">EA 12.0&lt;Log(M<tspan font-size="14" dy="5">200</tspan><tspan dy="-5">)&lt;13.0</tspan></text><path d="M727.6 504.7h15.2" stroke="#ff5500" stroke-width="5.2" fill="none"/></g>
<g><path class="g" stroke-width="3.2" d="M443.13 525.61L442.39 524.15L440.92 522.70L439.44 521.97L436.49 521.97L435.01 522.70L433.54 524.15L432.80 525.61L432.06 527.79L432.06 531.42L432.80 533.61L433.54 535.06L435.01 536.51L436.49 537.24L439.44 537.24L440.92 536.51L442.39 535.06L443.13 533.61M451.99 521.97L450.51 522.70L449.03 524.15L448.30 525.61L447.56 527.79L447.56 531.42L448.30 533.61L449.03 535.06L450.51 536.51L451.99 537.24L454.94 537.24L456.41 536.51L457.89 535.06L458.63 533.61L459.37 531.42L459.37 527.79L458.63 525.61L457.89 524.15L456.41 522.70L454.94 521.97L451.99 521.97M477.82 524.88L479.29 524.15L481.51 521.97L481.51 537.24M491.84 521.97L499.96 521.97L495.53 527.79L497.74 527.79L499.22 528.52L499.96 529.24L500.69 531.42L500.69 532.88L499.96 535.06L498.48 536.51L496.27 537.24L494.05 537.24L491.84 536.51L491.10 535.79L490.36 534.33M506.60 536.37L505.86 537.09L506.60 537.82L507.34 537.09L506.60 536.37M516.93 521.97L514.72 522.70L513.24 524.88L512.50 528.52L512.50 530.70L513.24 534.33L514.72 536.51L516.93 537.24L518.41 537.24L520.62 536.51L522.10 534.33L522.83 530.70L522.83 528.52L522.10 524.88L520.62 522.70L518.41 521.97L516.93 521.97M539.81 524.15L529.48 530.70L539.81 537.24M545.71 521.97L545.71 537.24M545.71 537.24L554.57 537.24M561.21 527.06L559.73 527.79L558.26 529.24L557.52 531.42L557.52 532.88L558.26 535.06L559.73 536.51L561.21 537.24L563.42 537.24L564.90 536.51L566.38 535.06L567.11 532.88L567.11 531.42L566.38 529.24L564.90 527.79L563.42 527.06L561.21 527.06M580.40 527.06L580.40 538.69L579.66 540.88L578.92 541.60L577.45 542.33L575.23 542.33L573.76 541.60M580.40 529.24L578.92 527.79L577.45 527.06L575.23 527.06L573.76 527.79L572.28 529.24L571.54 531.42L571.54 532.88L572.28 535.06L573.76 536.51L575.23 537.24L577.45 537.24L578.92 536.51L580.40 535.06M591.76 518.70L589.99 520.52L588.52 522.70L587.04 525.61L586.30 529.24L586.30 532.15L587.04 535.79L588.52 538.69L589.99 540.88L591.76 542.69M596.63 521.97L596.63 537.24M596.63 521.97L602.54 537.24M608.44 521.97L602.54 537.24M608.44 521.97L608.44 537.24"/><path class="g" stroke-width="3.2" d="M613.20 535.23L613.20 534.78L613.66 533.88L614.11 533.43L615.01 532.97L616.83 532.97L617.73 533.43L618.18 533.88L618.64 534.78L618.64 535.68L618.18 536.58L617.28 537.93L612.75 542.44L619.09 542.44M624.52 532.97L623.16 533.43L622.26 534.78L621.80 537.03L621.80 538.38L622.26 540.64L623.16 541.99L624.52 542.44L625.42 542.44L626.78 541.99L627.69 540.64L628.14 538.38L628.14 537.03L627.69 534.78L626.78 533.43L625.42 532.97L624.52 532.97M633.57 532.97L632.21 533.43L631.31 534.78L630.86 537.03L630.86 538.38L631.31 540.64L632.21 541.99L633.57 542.44L634.48 542.44L635.83 541.99L636.74 540.64L637.19 538.38L637.19 537.03L636.74 534.78L635.83 533.43L634.48 532.97L633.57 532.97"/><path class="g" stroke-width="3.2" d="M640.45 518.70L642.20 520.52L643.66 522.70L645.12 525.61L645.85 529.24L645.85 532.15L645.12 535.79L643.66 538.69L642.20 540.88L640.45 542.69M663.37 524.15L653.15 530.70L663.37 537.24M670.67 524.88L672.13 524.15L674.32 521.97L674.32 537.24M690.38 521.97L683.08 532.15L694.03 532.15M690.38 521.97L690.38 537.24M699.14 536.37L698.41 537.09L699.14 537.82L699.87 537.09L699.14 536.37M709.36 521.97L707.17 522.70L705.71 524.88L704.98 528.52L704.98 530.70L705.71 534.33L707.17 536.51L709.36 537.24L710.82 537.24L713.01 536.51L714.47 534.33L715.20 530.70L715.20 528.52L714.47 524.88L713.01 522.70L710.82 521.97L709.36 521.97"/><text x="431.85" y="537.84" font-size="22" textLength="282.95" lengthAdjust="spacingAndGlyphs">CO 13.0&lt;Log(M<tspan font-size="14" dy="5">200</tspan><tspan dy="-5">)&lt;14.0</tspan></text><path d="M727.6 531.1h15.2" stroke="#0044ff" stroke-width="5.2" fill="none"/></g>
<g><path class="g" stroke-width="3.2" d="M443.13 552.23L442.39 550.77L440.92 549.32L439.44 548.59L436.49 548.59L435.01 549.32L433.54 550.77L432.80 552.23L432.06 554.41L432.06 558.04L432.80 560.23L433.54 561.68L435.01 563.13L436.49 563.86L439.44 563.86L440.92 563.13L442.39 561.68L443.13 560.23M451.99 548.59L450.51 549.32L449.03 550.77L448.30 552.23L447.56 554.41L447.56 558.04L448.30 560.23L449.03 561.68L450.51 563.13L451.99 563.86L454.94 563.86L456.41 563.13L457.89 561.68L458.63 560.23L459.37 558.04L459.37 554.41L458.63 552.23L457.89 550.77L456.41 549.32L454.94 548.59L451.99 548.59M477.82 551.50L479.29 550.77L481.51 548.59L481.51 563.86M497.74 548.59L490.36 558.77L501.43 558.77M497.74 548.59L497.74 563.86M506.60 562.99L505.86 563.71L506.60 564.44L507.34 563.71L506.60 562.99M516.93 548.59L514.72 549.32L513.24 551.50L512.50 555.14L512.50 557.32L513.24 560.95L514.72 563.13L516.93 563.86L518.41 563.86L520.62 563.13L522.10 560.95L522.83 557.32L522.83 555.14L522.10 551.50L520.62 549.32L518.41 548.59L516.93 548.59M539.81 550.77L529.48 557.32L539.81 563.86M545.71 548.59L545.71 563.86M545.71 563.86L554.57 563.86M561.21 553.68L559.73 554.41L558.26 555.86L557.52 558.04L557.52 559.50L558.26 561.68L559.73 563.13L561.21 563.86L563.42 563.86L564.90 563.13L566.38 561.68L567.11 559.50L567.11 558.04L566.38 555.86L564.90 554.41L563.42 553.68L561.21 553.68M580.40 553.68L580.40 565.31L579.66 567.50L578.92 568.22L577.45 568.95L575.23 568.95L573.76 568.22M580.40 555.86L578.92 554.41L577.45 553.68L575.23 553.68L573.76 554.41L572.28 555.86L571.54 558.04L571.54 559.50L572.28 561.68L573.76 563.13L575.23 563.86L577.45 563.86L578.92 563.13L580.40 561.68M591.76 545.32L589.99 547.14L588.52 549.32L587.04 552.23L586.30 555.86L586.30 558.77L587.04 562.41L588.52 565.31L589.99 567.50L591.76 569.31M596.63 548.59L596.63 563.86M596.63 548.59L602.54 563.86M608.44 548.59L602.54 563.86M608.44 548.59L608.44 563.86"/><path class="g" stroke-width="3.2" d="M613.20 561.85L613.20 561.40L613.66 560.50L614.11 560.05L615.01 559.59L616.83 559.59L617.73 560.05L618.18 560.50L618.64 561.40L618.64 562.30L618.18 563.20L617.28 564.55L612.75 569.06L619.09 569.06M624.52 559.59L623.16 560.05L622.26 561.40L621.80 563.65L621.80 565L622.26 567.26L623.16 568.61L624.52 569.06L625.42 569.06L626.78 568.61L627.69 567.26L628.14 565L628.14 563.65L627.69 561.40L626.78 560.05L625.42 559.59L624.52 559.59M633.57 559.59L632.21 560.05L631.31 561.40L630.86 563.65L630.86 565L631.31 567.26L632.21 568.61L633.57 569.06L634.48 569.06L635.83 568.61L636.74 567.26L637.19 565L637.19 563.65L636.74 561.40L635.83 560.05L634.48 559.59L633.57 559.59"/><path class="g" stroke-width="3.2" d="M640.45 545.32L642.20 547.14L643.66 549.32L645.12 552.23L645.85 555.86L645.85 558.77L645.12 562.41L643.66 565.31L642.20 567.50L640.45 569.31M663.37 550.77L653.15 557.32L663.37 563.86M670.67 551.50L672.13 550.77L674.32 548.59L674.32 563.86M691.84 548.59L684.54 548.59L683.81 555.14L684.54 554.41L686.73 553.68L688.92 553.68L691.11 554.41L692.57 555.86L693.30 558.04L693.30 559.50L692.57 561.68L691.11 563.13L688.92 563.86L686.73 563.86L684.54 563.13L683.81 562.41L683.08 560.95M699.14 562.99L698.41 563.71L699.14 564.44L699.87 563.71L699.14 562.99M709.36 548.59L707.17 549.32L705.71 551.50L704.98 555.14L704.98 557.32L705.71 560.95L707.17 563.13L709.36 563.86L710.82 563.86L713.01 563.13L714.47 560.95L715.20 557.32L715.20 555.14L714.47 551.50L713.01 549.32L710.82 548.59L709.36 548.59"/><text x="431.85" y="564.46" font-size="22" textLength="282.95" lengthAdjust="spacingAndGlyphs">CO 14.0&lt;Log(M<tspan font-size="14" dy="5">200</tspan><tspan dy="-5">)&lt;15.0</tspan></text><path d="M727.6 557.6h15.2" stroke="#3cbe3c" stroke-width="5.2" fill="none"/></g>
<path class="ln do" stroke="#000" d="M221 531h41.5"/><path class="ln da" stroke="#000" d="M221 557.3h43"/>
<g><path class="g" stroke-width="2.8" d="M281.80 531.94L290.56 531.94L290.56 530.48L289.83 529.02L289.10 528.28L287.64 527.55L285.45 527.55L283.99 528.28L282.53 529.75L281.80 531.94L281.80 533.41L282.53 535.60L283.99 537.07L285.45 537.80L287.64 537.80L289.10 537.07L290.56 535.60M303.70 527.55L303.70 537.80M303.70 529.75L302.24 528.28L300.78 527.55L298.59 527.55L297.13 528.28L295.67 529.75L294.94 531.94L294.94 533.41L295.67 535.60L297.13 537.07L298.59 537.80L300.78 537.80L302.24 537.07L303.70 535.60M309.54 527.55L309.54 537.80M309.54 531.94L310.27 529.75L311.73 528.28L313.19 527.55L315.38 527.55M319.03 522.43L319.03 537.80M323.41 527.55L327.79 537.80M332.17 527.55L327.79 537.80L326.33 540.73L324.87 542.19L323.41 542.92L322.68 542.92"/><text x="281.61" y="538.8" font-size="22" textLength="50.02" lengthAdjust="spacingAndGlyphs">early</text></g>
<g><path class="g" stroke-width="2.8" d="M282.60 549.03L282.60 564.40M296.47 554.15L296.47 564.40M296.47 556.35L295.01 554.88L293.55 554.15L291.36 554.15L289.90 554.88L288.44 556.35L287.71 558.54L287.71 560.01L288.44 562.20L289.90 563.67L291.36 564.40L293.55 564.40L295.01 563.67L296.47 562.20M303.04 549.03L303.04 561.47L303.77 563.67L305.23 564.40L306.69 564.40M300.85 554.15L305.96 554.15M310.34 558.54L319.10 558.54L319.10 557.08L318.37 555.62L317.64 554.88L316.18 554.15L313.99 554.15L312.53 554.88L311.07 556.35L310.34 558.54L310.34 560.01L311.07 562.20L312.53 563.67L313.99 564.40L316.18 564.40L317.64 563.67L319.10 562.20"/><text x="281.68" y="565.4" font-size="22" textLength="37.61" lengthAdjust="spacingAndGlyphs">late</text></g>
<path fill="#000" d="M144.98 73.82L146.92 73.82L145.95 75.09zM144.98 174.62L146.92 174.62L145.95 175.89zM144.98 284.22L146.92 284.22L145.95 285.49zM144.98 393.82L146.92 393.82L145.95 395.09zM144.98 503.42L146.92 503.42L145.95 504.69zM144.98 602.32L146.92 602.32L145.95 603.59zM189.80 644.52L191.75 644.52L190.78 645.79zM339.18 644.52L341.12 644.52L340.15 645.79zM488.55 644.52L490.50 644.52L489.52 645.79zM637.93 644.52L639.87 644.52L638.90 645.79zM775.43 644.52L777.37 644.52L776.40 645.79zM505.47 482.00L507.73 482.00L506.60 483.43zM698.01 482.00L700.27 482.00L699.14 483.43zM505.47 508.62L507.73 508.62L506.60 510.05zM698.01 508.62L700.27 508.62L699.14 510.05zM505.47 535.24L507.73 535.24L506.60 536.67zM698.01 535.24L700.27 535.24L699.14 536.67zM505.47 561.86L507.73 561.86L506.60 563.29zM698.01 561.86L700.27 561.86L699.14 563.29z"/>
</svg>
</body></html>
